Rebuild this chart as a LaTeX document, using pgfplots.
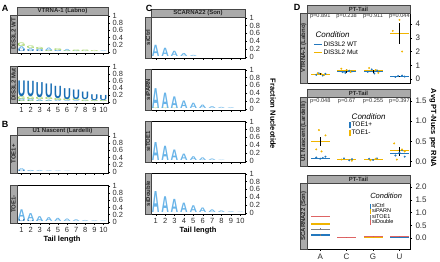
\documentclass[border=0pt]{standalone}
\usepackage{fontspec}
\setmainfont{Liberation Sans}
\usepackage{graphicx}
\usepackage{pgfplots}
\pgfplotsset{compat=1.18}

\definecolor{ltA}{RGB}{105,180,232}
\definecolor{dkU}{RGB}{25,110,180}
\definecolor{ltG}{RGB}{160,210,95}
\definecolor{dkC}{RGB}{50,150,50}
\definecolor{dblue}{RGB}{35,120,190}
\definecolor{dyel}{RGB}{240,180,0}
\definecolor{dgray}{RGB}{128,128,128}
\definecolor{dred}{RGB}{222,100,100}
\definecolor{stripfill}{RGB}{170,170,170}
\definecolor{stripedge}{RGB}{70,70,70}
\definecolor{tickgray}{RGB}{45,45,45}

% letter scale: data height -> box scale (depends on panel height)
\newcommand\lgk{5}
\newcommand\logofont{\fontsize{10}{10}\selectfont\bfseries}
\newcommand\stripfont{\fontsize{6}{6}\selectfont\bfseries}
\newcommand\pvfont{\fontsize{5.6}{6}\selectfont}

\pgfplotsset{
  no dots/.style={only marks, mark=*, mark size=0pt, mark options={draw=none, fill=none}},
  logo letter/.style 2 args={
    no dots, forget plot,
    visualization depends on={\thisrow{h}*\lgk \as \hval},
    nodes near coords={\scalebox{1.05}[\hval]{\logofont #2}},
    nodes near coords align={anchor=base},
    every node near coord/.append style={inner sep=0pt, outer sep=0pt, text=#1},
  },
  base panel/.style={
    scale only axis, anchor=south west,
    tick align=outside, major tick length=2pt,
    axis line style={black, line width=0.45pt},
    every tick/.style={black, line width=0.4pt},
    ytick pos=right, yticklabel pos=right, xtick pos=left,
    tick label style={font=\fontsize{7.5}{8}\selectfont, text=tickgray},
    /pgf/number format/assume math mode=true,
    clip=false,
  },
  logo panel/.style={
    base panel, width=#1, xmin=0.5, xmax=10.5, ymin=-0.03, ymax=1.02,
    xtick={1,...,10}, xticklabels={},
    ytick={0,0.2,0.4,0.6,0.8,1},
    yticklabel style={xshift=-1pt},
  },
  bottom labels/.style={xticklabels={1,2,3,4,5,6,7,8,9,10},
    xticklabel style={yshift=1pt}},
  d panel/.style={
    base panel, width=103pt, xmin=0.5, xmax=4.4,
    xtick=\empty,
    tick label style={font=\fontsize{8}{8}\selectfont, text=tickgray},
    legend cell align=left,
  },
  mean bar/.style={forget plot, no dots,
    error bars/.cd, x dir=both, x fixed=0.36, error mark=none,
    error bar style={#1, line width=1.1pt}},
  sem bar/.style={forget plot, no dots,
    error bars/.cd, y dir=both, y explicit, error mark=none,
    error bar style={#1, line width=0.6pt}},
  pts/.style={forget plot, only marks, mark=*, mark size=0.75pt, #1, mark options={draw=none, fill=#1}},
}

\newcommand\topstrip[3][8pt]{%
  \draw[draw=stripedge, fill=stripfill, line width=0.4pt] (#2.north west) rectangle ([yshift=#1]#2.north east);
  \path (#2.north west) -- (#2.north east) node[midway, yshift=#1/2, font=\stripfont, text=black!85] {#3};}
\newcommand\leftstrip[3][7pt]{%
  \draw[draw=stripedge, fill=stripfill, line width=0.4pt] (#2.south west) rectangle ([xshift=-#1]#2.north west);
  \path (#2.south west) -- (#2.north west) node[midway, xshift=-#1/2, rotate=90, font=\stripfont, text=black!85] {#3};}

\begin{document}
\begin{tikzpicture}[x=1pt,y=1pt]
\useasboundingbox (0,0) rectangle (440,262);

% ---------------- Panel A: VTRNA-1 (Labno) ----------------
\renewcommand\lgk{5.05}
\begin{axis}[logo panel=91pt, height=38pt, at={(17pt,209pt)}, name=A1]
\addplot[logo letter={dkU}{U}] table[row sep=\\]{x y h\\ 1 0 0.06\\ 2 0 0.05\\ 3 0 0.04\\ 4 0 0.02\\ 5 0 0.02\\};
\addplot[logo letter={ltA}{A}] table[row sep=\\]{x y h\\ 1 0.06 0.08\\ 2 0.05 0.05\\ 3 0.04 0.04\\ 4 0.05 0.07\\ 5 0.02 0.03\\ 6 0.02 0.06\\ 7 0 0.02\\ 8 0 0.01\\ 10 0 0.02\\};
\addplot[logo letter={ltG}{G}] table[row sep=\\]{x y h\\ 1 0.14 0.10\\ 2 0.10 0.07\\ 3 0.08 0.06\\ 4 0.02 0.03\\ 5 0.05 0.05\\ 6 0 0.02\\ 7 0.02 0.04\\ 8 0.01 0.04\\ 9 0 0.03\\};
\end{axis}
\renewcommand\lgk{4.92}
\begin{axis}[logo panel=91pt, height=37pt, at={(17pt,159pt)}, name=A2, bottom labels]
\addplot[logo letter={dkC}{C}] table[row sep=\\]{x y h\\ 1 0 0.03\\ 2 0 0.03\\ 3 0 0.02\\ 4 0 0.02\\};
\addplot[logo letter={ltA}{A}] table[row sep=\\]{x y h\\ 1 0.03 0.05\\ 2 0.03 0.05\\ 3 0.02 0.05\\ 4 0.02 0.04\\ 5 0 0.04\\ 6 0 0.03\\ 7 0 0.03\\ 8 0 0.02\\ 9 0 0.02\\ 10 0 0.02\\};
\addplot[logo letter={ltG}{G}] table[row sep=\\]{x y h\\ 1 0.08 0.08\\ 2 0.08 0.07\\ 3 0.07 0.07\\ 4 0.06 0.06\\ 5 0.04 0.06\\ 6 0.03 0.05\\ 7 0.03 0.05\\ 8 0.02 0.04\\ 9 0.02 0.03\\ 10 0.02 0.03\\};
\addplot[logo letter={dkU}{U}] table[row sep=\\]{x y h\\ 1 0.16 0.46\\ 2 0.15 0.45\\ 3 0.14 0.44\\ 4 0.12 0.40\\ 5 0.10 0.36\\ 6 0.08 0.32\\ 7 0.08 0.28\\ 8 0.06 0.22\\ 9 0.05 0.17\\ 10 0.05 0.15\\};
\end{axis}
\topstrip{A1}{VTRNA-1 (Labno)}
\leftstrip{A1}{DIS3L2 WT}
\leftstrip{A2}{DIS3L2 Mut}

% ---------------- Panel B: U1 Nascent (Lardelli) ----------------
\renewcommand\lgk{5.05}
\begin{axis}[logo panel=91pt, height=38pt, at={(17pt,89pt)}, name=B1]
\addplot[logo letter={dkU}{U}] table[row sep=\\]{x y h\\ 1 0 0.03\\ 2 0 0.01\\};
\addplot[logo letter={ltA}{A}] table[row sep=\\]{x y h\\ 1 0.03 0.05\\ 2 0.01 0.03\\ 3 0 0.03\\ 4 0 0.02\\ 5 0 0.015\\ 6 0 0.01\\};
\end{axis}
\begin{axis}[logo panel=91pt, height=38pt, at={(17pt,39pt)}, name=B2, bottom labels]
\addplot[logo letter={dkU}{U}] table[row sep=\\]{x y h\\ 1 0 0.06\\ 2 0 0.03\\ 3 0 0.02\\};
\addplot[logo letter={ltA}{A}] table[row sep=\\]{x y h\\ 1 0.06 0.28\\ 2 0.03 0.20\\ 3 0.02 0.14\\ 4 0 0.11\\ 5 0 0.09\\ 6 0 0.07\\ 7 0 0.05\\ 8 0 0.03\\ 9 0 0.02\\ 10 0 0.015\\};
\end{axis}
\topstrip{B1}{U1 Nascent (Lardelli)}
\leftstrip{B1}{TOE1+}
\leftstrip{B2}{TOE1-}

% ---------------- Panel C: SCARNA22 (Son) ----------------
\renewcommand\lgk{5.45}
\begin{axis}[logo panel=94pt, height=41pt, at={(151pt,204pt)}, name=C1]
\addplot[logo letter={ltA}{A}] table[row sep=\\]{x y h\\ 1 0 0.30\\ 2 0 0.22\\ 3 0 0.14\\ 4 0 0.08\\ 5 0 0.03\\};
\end{axis}
\begin{axis}[logo panel=94pt, height=41pt, at={(151pt,152pt)}, name=C2]
\addplot[logo letter={ltG}{G}] table[row sep=\\]{x y h\\ 1 0 0.02\\ 2 0 0.015\\ 3 0 0.01\\};
\addplot[logo letter={ltA}{A}] table[row sep=\\]{x y h\\ 1 0.02 0.53\\ 2 0.015 0.41\\ 3 0.01 0.31\\ 4 0 0.20\\ 5 0 0.14\\ 6 0 0.09\\ 7 0 0.05\\ 8 0 0.03\\ 9 0 0.02\\};
\end{axis}
\begin{axis}[logo panel=94pt, height=41pt, at={(151pt,100pt)}, name=C3]
\addplot[logo letter={ltA}{A}] table[row sep=\\]{x y h\\ 1 0 0.48\\ 2 0 0.38\\ 3 0 0.28\\ 4 0 0.17\\ 5 0 0.10\\ 6 0 0.07\\ 7 0 0.04\\ 8 0 0.01\\};
\end{axis}
\begin{axis}[logo panel=94pt, height=41pt, at={(151pt,48pt)}, name=C4, bottom labels]
\addplot[logo letter={ltA}{A}] table[row sep=\\]{x y h\\ 1 0 0.56\\ 2 0 0.42\\ 3 0 0.35\\ 4 0 0.25\\ 5 0 0.18\\ 6 0 0.12\\ 7 0 0.07\\ 8 0 0.04\\ 9 0 0.02\\ 10 0 0.01\\};
\end{axis}
\topstrip{C1}{SCARNA22 (Son)}
\leftstrip[6pt]{C1}{siCtrl}
\leftstrip[6pt]{C2}{siPARN}
\leftstrip[6pt]{C3}{siTOE1}
\leftstrip[6pt]{C4}{siDouble}

% ---------------- Panel D: PT-Tail ----------------
\begin{axis}[d panel, height=70pt, at={(307pt,179pt)}, name=D1,
  ymin=-0.29, ymax=4.8, ytick={0,1,2,3,4},
  legend style={at={(axis description cs:0.06,0.61)}, anchor=north west, draw=none, fill=none,
    font=\fontsize{6.5}{7}\selectfont, inner sep=0pt, row sep=0pt, nodes={inner sep=1pt}},
  legend image code/.code={\draw[#1, line width=1.2pt] (0pt,0pt) -- (8pt,0pt);}]
\addlegendimage{dblue}\addlegendentry{DIS3L2 WT}
\addlegendimage{dyel}\addlegendentry{DIS3L2 Mut}
\addplot[pts=dblue] coordinates {(0.85,0.3) (0.95,0.42) (1.1,0.25) (1.2,0.38) (1.85,0.5) (1.95,0.45) (2.1,0.6) (2.2,0.55) (2.8,0.52) (2.95,0.7) (3.05,0.4) (3.15,0.62) (3.85,0.15) (3.95,0.22) (4.1,0.25) (4.2,0.18)};
\addplot[pts=dyel] coordinates {(0.9,0.42) (1.05,0.35) (1.15,0.3) (1.8,0.75) (2.0,0.65) (2.15,0.5) (2.85,0.8) (3.1,0.65) (3.2,0.45) (4.0,4.3) (3.75,3.5) (4.1,2.0)};
\addplot[mean bar=dblue] coordinates {(1,0.35) (2,0.52) (3,0.55) (4,0.2)};
\addplot[mean bar=dyel] coordinates {(1,0.35) (2,0.63) (3,0.62) (4,3.3)};
\addplot[sem bar=black] coordinates {(1,0.35) +- (0,0.08) (2,0.58) +- (0,0.12) (3,0.55) +- (0,0.12) (4,3.3) +- (0,0.75) (4,0.2) +- (0,0.05)};
\node[font=\itshape\fontsize{8}{8}\selectfont, anchor=west] at (axis description cs:0.05,0.69) {Condition};
\node[font=\pvfont, text=black!80] at (axis cs:1,4.55) {p=0.891};
\node[font=\pvfont, text=black!80] at (axis cs:2,4.55) {p=0.238};
\node[font=\pvfont, text=black!80] at (axis cs:3,4.55) {p=0.911};
\node[font=\pvfont, text=black!80] at (axis cs:4,4.55) {p=0.044};
\end{axis}
\topstrip{D1}{PT-Tail}
\leftstrip{D1}{VTRNA-1 (Labno)}

\begin{axis}[d panel, height=69pt, at={(307pt,96pt)}, name=D2,
  ymin=-0.11, ymax=1.6, ytick={0,0.5,1,1.5},
  yticklabel style={/pgf/number format/.cd, fixed, fixed zerofill, precision=1},
  legend style={at={(axis description cs:0.41,0.65)}, anchor=north west, draw=none, fill=none,
    font=\fontsize{6.5}{7}\selectfont, inner sep=0pt, row sep=0pt, nodes={inner sep=1pt}},
  legend image code/.code={\draw[#1, line width=1.2pt] (3pt,-3pt) -- (3pt,3pt);}]
\addlegendimage{dblue}\addlegendentry{TOE1+}
\addlegendimage{dyel}\addlegendentry{TOE1-}
\addplot[pts=dblue] coordinates {(0.85,0.1) (1.0,0.07) (1.1,0.09) (1.2,0.12) (1.9,0.08) (2.1,0.03) (2.2,0.06) (2.85,0.07) (3.0,0.04) (3.15,0.08) (3.85,0.15) (4.0,0.22) (4.1,0.28) (4.2,0.12)};
\addplot[pts=dyel] coordinates {(0.85,0.3) (0.95,0.78) (1.05,0.25) (1.2,0.65) (1.8,0.05) (2.2,0.02) (2.9,0.03) (3.1,0.07) (3.8,0.45) (3.9,0.05) (4.1,0.3) (4.2,0.25)};
\addplot[mean bar=dblue] coordinates {(1,0.08) (2,0.05) (3,0.05) (4,0.2)};
\addplot[mean bar=dyel] coordinates {(1,0.5) (2,0.04) (3,0.05) (4,0.27)};
\addplot[sem bar=black] coordinates {(1,0.5) +- (0,0.12) (4,0.25) +- (0,0.1) (1,0.08) +- (0,0.02)};
\node[font=\itshape\fontsize{8}{8}\selectfont, anchor=west] at (axis description cs:0.40,0.72) {Condition};
\node[font=\pvfont, text=black!80] at (axis cs:1,1.49) {p=0.048};
\node[font=\pvfont, text=black!80] at (axis cs:2,1.49) {p=0.67};
\node[font=\pvfont, text=black!80] at (axis cs:3,1.49) {p=0.255};
\node[font=\pvfont, text=black!80] at (axis cs:4,1.49) {p=0.397};
\end{axis}
\topstrip{D2}{PT-Tail}
\leftstrip{D2}{U1 Nascent (Lardelli)}

\begin{axis}[d panel, height=66pt, at={(307pt,13pt)}, name=D3,
  ymin=-0.43, ymax=2.16, ytick={0,0.5,1,1.5,2},
  yticklabel style={/pgf/number format/.cd, fixed, fixed zerofill, precision=1},
  xtick={1,2,3,4}, xticklabels={A,C,G,U},
  xticklabel style={font=\fontsize{8}{8}\selectfont, yshift=1pt},
  legend style={at={(axis description cs:0.61,0.71)}, anchor=north west, draw=none, fill=none,
    font=\fontsize{5.5}{6}\selectfont, inner sep=0pt, row sep=-2pt, nodes={inner sep=1pt}},
  legend image code/.code={\draw[#1, line width=1.1pt] (3pt,-2.5pt) -- (3pt,2.5pt);}]
\addlegendimage{dblue}\addlegendentry{siCtrl}
\addlegendimage{dyel}\addlegendentry{siPARN}
\addlegendimage{dgray}\addlegendentry{siTOE1}
\addlegendimage{dred}\addlegendentry{siDouble}
\addplot[mean bar=dblue] coordinates {(1,0.12) (2,0.02) (3,0.05) (4,0.04)};
\addplot[mean bar=dyel] coordinates {(1,0.55) (2,0.02) (3,0.04) (4,0.05)};
\addplot[mean bar=dgray] coordinates {(1,0.35) (2,0.02) (3,0.05) (4,0.05)};
\addplot[mean bar=dred] coordinates {(1,0.85) (2,0.02) (3,0.05) (4,0.05)};
\addplot[sem bar=dgray] coordinates {(1,0.35) +- (0,0.04) (1,0.12) +- (0,0.03)};
\node[font=\itshape\fontsize{7.5}{8}\selectfont, anchor=west] at (axis description cs:0.58,0.80) {Condition};
\end{axis}
\topstrip{D3}{PT-Tail}
\leftstrip{D3}{SCARNA22 (Son)}

% ---------------- Panel letters and shared titles ----------------
\node[font=\bfseries\fontsize{9}{9}\selectfont] at (5,254) {A};
\node[font=\bfseries\fontsize{9}{9}\selectfont] at (5,138) {B};
\node[font=\bfseries\fontsize{9}{9}\selectfont] at (149,254) {C};
\node[font=\bfseries\fontsize{9}{9}\selectfont] at (297,255) {D};
\node[font=\bfseries\fontsize{7.5}{8}\selectfont] at (62,22) {Tail length};
\node[font=\bfseries\fontsize{7.5}{8}\selectfont] at (198,31) {Tail length};
\node[font=\bfseries\fontsize{7.5}{8}\selectfont, rotate=-90] at (273,148) {Fraction Nucleotide};
\node[font=\bfseries\fontsize{7.5}{8}\selectfont, rotate=-90] at (433,134) {Avg PT-Nucs per RNA};
\end{tikzpicture}
\end{document}
